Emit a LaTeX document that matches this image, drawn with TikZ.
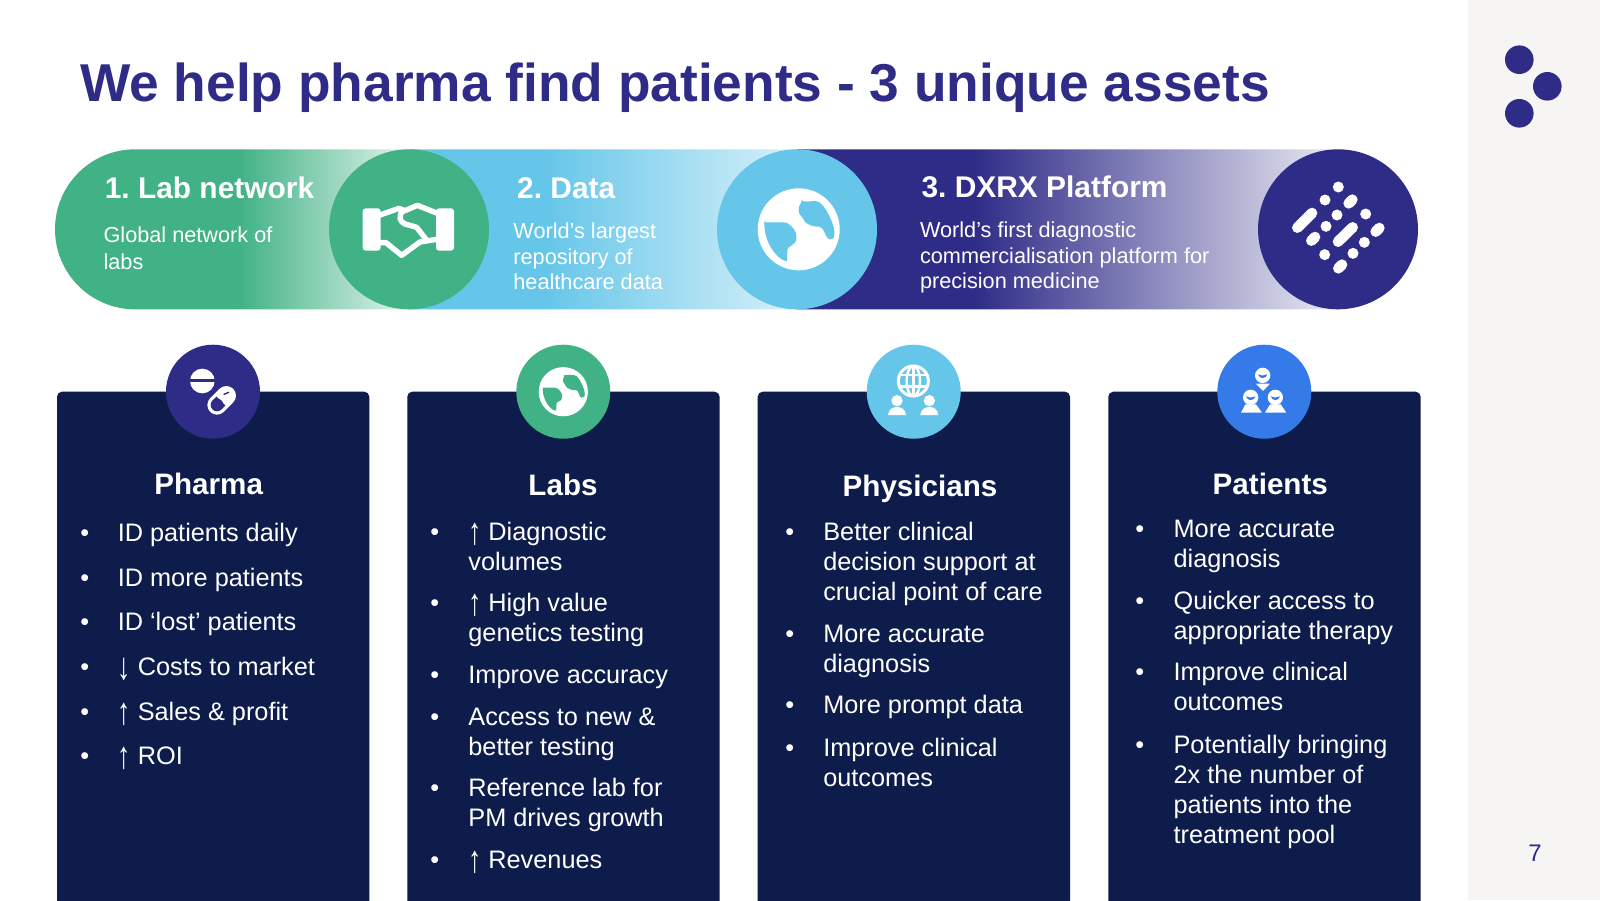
\documentclass[tikz,border=0pt]{standalone}
\usepackage{fontspec}
\usepackage{graphicx}
\setmainfont{Liberation Sans}
\AtBeginDocument{\frenchspacing}
\definecolor{cgreen}{HTML}{41B285}
\definecolor{csky}{HTML}{65C6E9}
\definecolor{cindigo}{HTML}{2F2C88}
\definecolor{cnavy}{HTML}{0D1C4A}
\definecolor{cblue}{HTML}{347AE8}
\definecolor{cpanel}{HTML}{F6F5F3}
\tikzset{
  headtext/.style={font=\fontsize{29.6}{34}\selectfont\bfseries,text=white,inner sep=0pt,anchor=base},
  pilltitle/.style={font=\fontsize{29.9}{34}\selectfont\bfseries,text=white,inner sep=0pt,anchor=base west},
  pillbody/.style={font=\fontsize{21.7}{#1}\selectfont,text=white,inner sep=0pt,anchor=north west,align=left},
  itemtext/.style={font=\fontsize{25.3}{30}\selectfont,text=white,inner sep=0pt,anchor=north west,align=left},
  bullettext/.style={font=\fontsize{25.3}{30}\selectfont,text=white,inner sep=0pt,anchor=base},
  bigdisc/.style={circle,minimum size=160pt,inner sep=0pt},
  smalldisc/.style={circle,minimum size=94pt,inner sep=0pt},
  logodot/.style={circle,minimum size=28.6pt,inner sep=0pt,fill=cindigo},
  cardbox/.style={fill=cnavy},
}
\newcommand{\itm}[5]{%
  \node[bullettext] (#1b) at (#3,#4+0.7) {•};
  \node[itemtext] (#1) at (#2-1.6,#4+0.7-21) {\strut #5};
}
\newcommand{\upa}{\makebox[20pt][l]{\raisebox{-4pt}{\scalebox{1.05}[1.5]{↑}}}}
\newcommand{\dna}{\makebox[20pt][l]{\raisebox{-4pt}{\scalebox{1.05}[1.5]{↓}}}}
\newcommand{\globeicon}[4]{%
  \begin{scope}[shift={(#1,#2)},scale=#3]
    \fill[white] (0,0) circle[radius=41];
    \fill[#4,rounded corners=2pt] (-34.4,-7) -- (-12.6,-7) .. controls (-6,-3) and (-2,3) .. (-2.3,9) .. controls (-3,15) and (-11,17) .. (-11.5,22.3) -- (-11.5,32.3) .. controls (-22,29) and (-34,14) .. cycle;
    \fill[#4,rounded corners=2pt] (3.4,-27.7) -- (19,-28.3) .. controls (27,-22) and (31,-13) .. (34.4,-4.3) .. controls (36,2) and (36,7) .. (33.3,10.7) .. controls (26,9) and (26,-2) .. (19,-2.7) .. controls (12,-3) and (5,-7) .. (4.6,-12) .. controls (-1,-15) and (-1,-22) .. cycle;
  \end{scope}
}
\newcommand{\persona}[3]{% cx, cy, colour: head with crescent
  \fill[white] (#1,#2) circle[radius=23];
  \fill[#3] (#1-14,#2-3) .. controls (#1-5,#2+2) and (#1+5,#2+2) .. (#1+14,#2-3) .. controls (#1+10,#2+12) and (#1-10,#2+12) .. cycle;
}
\begin{document}
\begin{tikzpicture}[x=1pt,y=-1pt]
\useasboundingbox (0,0) rectangle (1600,900);
\fill[white] (0,0) rectangle (1600,900);
\fill[cpanel] (1468,0) rectangle (1600,900);

% title
\node[font=\fontsize{53.3}{64}\selectfont\bfseries,text=cindigo,inner sep=0pt,anchor=base west] (title) at (80,101.5) {We help pharma find patients - 3 unique assets};

% logo and page number
\node[logodot] (dot1) at (1519.3,59.7) {};
\node[logodot] (dot2) at (1547.3,86.3) {};
\node[logodot] (dot3) at (1519.3,113.3) {};
\node[font=\fontsize{24}{28}\selectfont,text=cindigo,inner sep=0pt,anchor=base] (pageno) at (1535,861) {7};

% ribbon
\begin{scope}
  \clip[rounded corners=80pt] (55,149.3) rectangle (1418,309.3);
  \fill[cgreen] (55,149) rectangle (240,310);
  \shade[left color=cgreen,right color=cgreen!15!white] (239.5,149) rectangle (410,310);
  \fill[csky] (409,149) rectangle (545,310);
  \shade[left color=csky,right color=csky!25!white] (544.5,149) rectangle (798,310);
  \fill[cindigo] (797,149) rectangle (975,310);
  \shade[left color=cindigo,right color=cindigo!10!white] (974.5,149) rectangle (1340,310);
\end{scope}
\node[bigdisc,fill=cgreen] (disc1) at (409,229.3) {};
\node[bigdisc,fill=csky] (disc2) at (797,229.3) {};
\node[bigdisc,fill=cindigo] (disc3) at (1338,229.3) {};

% handshake
\begin{scope}[shift={(330,150)},scale=1/3]
  \fill[white,rounded corners=3pt] (98,175) -- (152,175) -- (152,302) -- (98,302) -- cycle;
  \fill[white,rounded corners=3pt] (318,175) -- (372,175) -- (372,302) -- (318,302) -- cycle;
  \draw[white,line width=5.4pt,line join=round,line cap=round]
    (150,195) -- (207,175) -- (225,182) -- (262,166) -- (320,189)
    (150,278) -- (168,278) -- (215,316) -- (270,276) -- (320,268);
  \draw[white,line width=5.4pt,line join=round,line cap=round]
    (222,182) .. controls (202,192) and (205,222) .. (240,226) -- (260,232) -- (288,268);
\end{scope}

% platform icon
\begin{scope}[shift={(1250,150)},scale=1/3]
  \foreach \cx/\cy in {265/111,225/150,261/195,347/192,228/229,343/277,224/314,309/310}
    \fill[white] (\cx,\cy) circle[radius=16.5];
  \draw[white,line width=10.6pt,line cap=round]
    (142,233) -- (186,189)
    (184,272) -- (195,261)
    (296,160) -- (307,149)
    (264,275) -- (308,232)
    (377,245) -- (388,234)
    (265,355) -- (276,344);
\end{scope}

\globeicon{798.7}{229.3}{1}{csky}

% ribbon texts
\node[pilltitle] (t1) at (104.6,198.3) {1. Lab network};
\node[pillbody=26.5] (b1) at (103.4,242.7-18.55) {\strut Global network of\\labs};
\node[pilltitle] (t2) at (517,198.3) {2. Data};
\node[pillbody=25.5] (b2) at (513.2,238.3-17.85) {\strut World’s largest\\repository of\\healthcare data};
\node[pilltitle] (t3) at (921.4,197.7) {3. DXRX Platform};
\node[pillbody=25.5] (b3) at (919.8,237.7-17.85) {\strut World’s first diagnostic\\commercialisation platform for\\precision medicine};

% cards
\fill[cardbox,rounded corners=5pt] (57,910) -- (57,391.7) -- (369.3,391.7) -- (369.3,910) -- cycle;
\fill[cardbox,rounded corners=5pt] (407.3,910) -- (407.3,391.7) -- (719.6,391.7) -- (719.6,910) -- cycle;
\fill[cardbox,rounded corners=5pt] (757.7,910) -- (757.7,391.7) -- (1070,391.7) -- (1070,910) -- cycle;
\fill[cardbox,rounded corners=5pt] (1108.3,910) -- (1108.3,391.7) -- (1420.6,391.7) -- (1420.6,910) -- cycle;
\node[smalldisc,fill=cindigo] (c1) at (213,391.7) {};
\node[smalldisc,fill=cgreen] (c2) at (563.3,391.7) {};
\node[smalldisc,fill=csky] (c3) at (913.7,391.7) {};
\node[smalldisc,fill=cblue] (c4) at (1264.3,391.7) {};

% pills icon
\begin{scope}[shift={(150,335)},scale=1/3]
  \fill[white] (157,138) circle[radius=37];
  \fill[cindigo] (115,133) rectangle (199,142);
  \draw[white,line width=19.3pt,line cap=round] (201,210) -- (229,182);
  \fill[cindigo] (201,210) circle[radius=19];
  \draw[cindigo,line width=12.7pt] (201,210) -- (213,198);
  \draw[cindigo,line width=1.4pt,line cap=round] (222,178) -- (236,172);
\end{scope}

\globeicon{563.3}{391.7}{0.6}{cgreen}

% physician icon
\begin{scope}[shift={(850,335)},scale=1/3]
  \draw[white,line width=3pt] (190,138) circle[radius=45];
  \draw[white,line width=2.4pt] (190,138) ellipse[x radius=20,y radius=45];
  \draw[white,line width=2.4pt] (150,120) -- (230,120) (150,155) -- (230,155) (190,93) -- (190,183);
  \foreach \cx in {141,238} {
    \fill[white] (\cx,197) circle[radius=17];
    \fill[white] (\cx-27,240) .. controls (\cx-25,222) and (\cx-12,216) .. (\cx,216) .. controls (\cx+12,216) and (\cx+25,222) .. (\cx+27,240) -- cycle;
  }
\end{scope}

% patients icon
\begin{scope}[shift={(850,335)},scale=1/3]
  \fill[white] (1217,146) -- (1260,146) -- (1239,168) -- cycle;
  \persona{1238}{121}{cblue}
  \fill[white] (1173,233) -- (1186,208) -- (1218,208) -- (1236,233) -- cycle;
  \fill[white] (1245,233) -- (1260,208) -- (1292,208) -- (1309,233) -- cycle;
  \persona{1202}{187}{cblue}
  \persona{1276}{187}{cblue}
\end{scope}

% Pharma
\node[headtext] (h1) at (208.7,494.8) {Pharma};
\itm{pa}{119.2}{84.8}{541}{ID patients daily}
\itm{pb}{119.2}{84.8}{585.7}{ID more patients}
\itm{pc}{119.2}{84.8}{629.7}{ID ‘lost’ patients}
\itm{pd}{119.2}{84.8}{674.3}{\dna Costs to market}
\itm{pe}{119.2}{84.8}{719.3}{\upa Sales \& profit}
\itm{pf}{119.2}{84.8}{763.3}{\upa ROI}

% Labs
\node[headtext] (h2) at (563,495.5) {Labs};
\itm{la}{469.8}{434.8}{540}{\upa Diagnostic\\volumes}
\itm{lb}{469.8}{434.8}{611}{\upa High value\\genetics testing}
\itm{lc}{469.8}{434.8}{682.3}{Improve accuracy}
\itm{ld}{469.8}{434.8}{724.7}{Access to new \&\\better testing}
\itm{le}{469.8}{434.8}{795.8}{Reference lab for\\PM drives growth}
\itm{lf}{469.8}{434.8}{868}{\upa Revenues}

% Physicians
\node[headtext] (h3) at (920,496.5) {Physicians};
\itm{ya}{824.7}{789.7}{540}{Better clinical\\decision support at\\crucial point of care}
\itm{yb}{824.7}{789.7}{641.3}{More accurate\\diagnosis}
\itm{yc}{824.7}{789.7}{712.3}{More prompt data}
\itm{yd}{824.7}{789.7}{755.3}{Improve clinical\\outcomes}

% Patients
\node[headtext] (h4) at (1270.3,494.2) {Patients};
\itm{ta}{1175}{1139.7}{536.7}{More accurate\\diagnosis}
\itm{tb}{1175}{1139.7}{608.3}{Quicker access to\\appropriate therapy}
\itm{tc}{1175}{1139.7}{679.7}{Improve clinical\\outcomes}
\itm{td}{1175}{1139.7}{753}{Potentially bringing\\2x the number of\\patients into the\\treatment pool}
\end{tikzpicture}
\end{document}
